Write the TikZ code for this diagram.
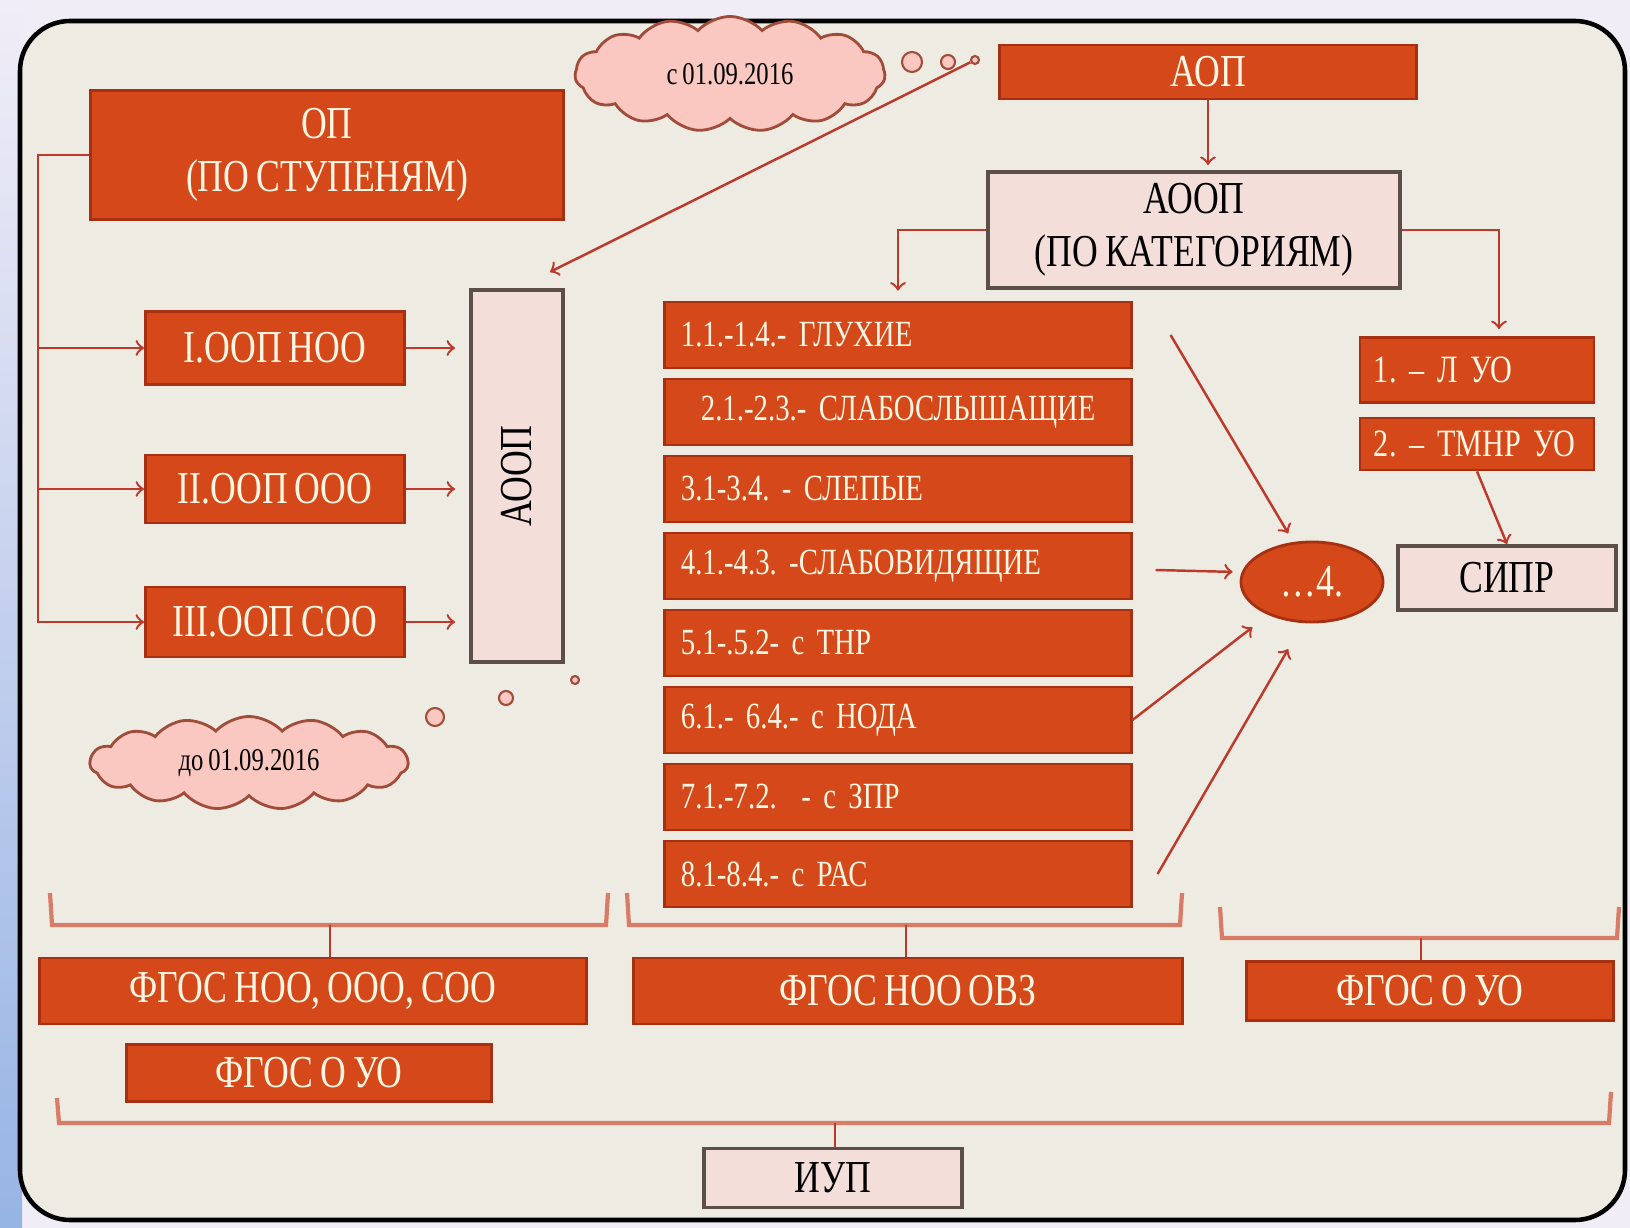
\documentclass[tikz,border=0pt]{standalone}
\usepackage{fontspec}
\setmainfont{Liberation Serif}[FakeStretch=0.78,WordSpace=0.8]
\frenchspacing
\usetikzlibrary{shapes.geometric,shapes.symbols}

\definecolor{pagebg}{RGB}{241,237,247}
\definecolor{pageblue}{RGB}{150,180,228}
\definecolor{framefill}{RGB}{238,236,226}
\definecolor{boxred}{RGB}{213,72,26}
\definecolor{boxedge}{RGB}{168,48,18}
\definecolor{boxtext}{RGB}{255,246,228}
\definecolor{lightfill}{RGB}{244,222,218}
\definecolor{lightedge}{RGB}{92,78,72}
\definecolor{linkred}{RGB}{190,56,44}
\definecolor{bracered}{RGB}{216,124,104}
\definecolor{cloudfill}{RGB}{250,200,192}
\definecolor{cloudedge}{RGB}{160,76,58}

\tikzset{
  redbox/.style={rectangle,draw=boxedge,line width=0.8pt,fill=boxred,text=boxtext,
    font=\fontsize{13}{15}\selectfont},
  lightbox/.style={rectangle,draw=lightedge,line width=1.1pt,fill=lightfill,text=black,
    font=\fontsize{13}{15}\selectfont},
  catbox/.style={redbox,font=\fontsize{10.5}{12}\selectfont,inner xsep=0.16cm,
    text width=4.34cm,align=left,minimum width=4.66cm,minimum height=0.66cm},
  smallbox/.style={redbox,font=\fontsize{11}{12}\selectfont,inner xsep=0.14cm,
    text width=2.06cm,align=left,minimum width=2.34cm},
  link/.style={draw=linkred,line width=0.7pt,->},
  brace/.style={draw=bracered,line width=1.2pt},
  cloudbox/.style={cloud,cloud puffs=15,cloud puff arc=95,cloud ignores aspect,draw=cloudedge,
    fill=cloudfill,line width=0.8pt,font=\fontsize{9}{10}\selectfont},
  bubble/.style={circle,draw=cloudedge,fill=cloudfill,line width=0.6pt,inner sep=0pt}
}

\begin{document}
\begin{tikzpicture}[x=0.01cm,y=-0.01cm]
  \useasboundingbox (0,0) rectangle (1630,1228);
  % page and frame
  \fill[pagebg] (0,0) rectangle (1630,1228);
  \shade[top color=pagebg,bottom color=pageblue] (0,0) rectangle (22,1228);
  \draw[line width=1.3pt,fill=framefill,rounded corners=0.5cm] (20,21) rectangle (1625,1220);

  % left part
  \node[redbox,minimum width=4.73cm,minimum height=1.29cm,align=center] (op) at (327,155) {ОП\\(ПО СТУПЕНЯМ)};
  \node[redbox,minimum width=2.59cm,minimum height=0.73cm] (s1) at (275,348) {I.ООП НОО};
  \node[redbox,minimum width=2.59cm,minimum height=0.68cm] (s2) at (275,489) {II.ООП ООО};
  \node[redbox,minimum width=2.59cm,minimum height=0.70cm] (s3) at (275,622) {III.ООП СОО};
  \node[lightbox,minimum width=0.92cm,minimum height=3.71cm] (aoopv) at (517,476) {};
  \node[rotate=90,font=\fontsize{13}{15}\selectfont] (aoopvt) at (aoopv.center) {АООП};

  % clouds
  \node[cloudbox,minimum width=3.1cm,minimum height=1.15cm] (cl1) at (730,74) {с 01.09.2016};
  \node[bubble,minimum size=0.2cm] (b1) at (912,62) {};
  \node[bubble,minimum size=0.14cm] (b2) at (948,62) {};
  \node[bubble,minimum size=0.08cm] (b3) at (975,60) {};
  \node[cloudbox,minimum width=3.18cm,minimum height=0.93cm] (cl2) at (249,763) {до 01.09.2016};
  \node[bubble,minimum size=0.18cm] (b4) at (435,717) {};
  \node[bubble,minimum size=0.14cm] (b5) at (506,698) {};
  \node[bubble,minimum size=0.08cm] (b6) at (575,680) {};

  % right part
  \node[redbox,minimum width=4.16cm,minimum height=0.5cm] (aop) at (1208,72) {АОП};
  \node[lightbox,minimum width=4.12cm,minimum height=1.11cm,align=center] (aoopk) at (1194,230) {АООП\\(ПО КАТЕГОРИЯМ)};
  \node[catbox] (c1) at (898,335) {1.1.-1.4.- ГЛУХИЕ};
  \node[catbox] (c2) at (898,412) {\hspace{0.2cm}2.1.-2.3.- СЛАБОСЛЫШАЩИЕ};
  \node[catbox] (c3) at (898,489) {3.1-3.4. - СЛЕПЫЕ};
  \node[catbox] (c4) at (898,566) {4.1.-4.3. -СЛАБОВИДЯЩИЕ};
  \node[catbox] (c5) at (898,643) {5.1-.5.2- с ТНР};
  \node[catbox] (c6) at (898,720) {6.1.- 6.4.- с НОДА};
  \node[catbox] (c7) at (898,797) {7.1.-7.2. \ - с ЗПР};
  \node[catbox] (c8) at (898,874) {8.1-8.4.- с РАС};
  \node[ellipse,fill=boxred,draw=boxedge,line width=0.8pt,text=boxtext,minimum width=1.42cm,
    minimum height=0.8cm,font=\fontsize{13}{15}\selectfont] (ell) at (1312,582) {…4.};
  \node[smallbox,minimum height=0.65cm] (luo) at (1477,370) {1. – Л УО};
  \node[smallbox,minimum height=0.52cm] (tmnr) at (1477,444) {2. – ТМНР УО};
  \node[lightbox,minimum width=2.18cm,minimum height=0.64cm] (sipr) at (1507,578) {СИПР};

  % standards
  \node[redbox,minimum width=5.47cm,minimum height=0.66cm] (f1) at (313,991) {ФГОС НОО, ООО, СОО};
  \node[redbox,minimum width=5.49cm,minimum height=0.66cm] (f2) at (908,991) {ФГОС НОО ОВЗ};
  \node[redbox,minimum width=3.67cm,minimum height=0.59cm] (f3) at (1430,991) {ФГОС О УО};
  \node[redbox,minimum width=3.65cm,minimum height=0.57cm] (f4) at (309,1073) {ФГОС О УО};
  \node[lightbox,minimum width=2.57cm,minimum height=0.59cm] (iup) at (833,1178) {ИУП};

  % connectors
  \draw[link] (op.west) -- ++(-51,0) |- (s1.west);
  \draw[link] (op.west) -- ++(-51,0) |- (s2.west);
  \draw[link] (op.west) -- ++(-51,0) |- (s3.west);
  \draw[link,shorten >=0.14cm] (s1.east) -- (s1.east -| aoopv.west);
  \draw[link,shorten >=0.14cm] (s2.east) -- (s2.east -| aoopv.west);
  \draw[link,shorten >=0.14cm] (s3.east) -- (s3.east -| aoopv.west);
  \draw[link,shorten >=0.1cm] (b3) -- ([xshift=0.24cm,yshift=0.12cm]aoopv.north);
  \draw[link,shorten >=0.05cm] (aop.south) -- (aop.south |- aoopk.north);
  \draw[link,shorten >=0.1cm] (aoopk.west) -| (c1.north);
  \draw[link,shorten >=0.07cm] (aoopk.east) -| ([xshift=0.22cm]luo.north);
  \draw[link,shorten >=0.1cm] ([xshift=0.38cm]c1.east) -- (ell.115);
  \draw[link,shorten >=0.09cm] ([shift={(0.23cm,-0.04cm)}]c4.east) -- (ell.172);
  \draw[link,shorten >=0.2cm] (c6.east) -- (ell.217);
  \draw[link,shorten >=0.3cm] ([xshift=0.25cm]c8.east) -- (ell.258);
  \draw[link] (tmnr.south) -- (sipr.north);

  % braces
  \coordinate (br1) at (330,925);
  \coordinate (br2) at (906,925);
  \coordinate (br3) at (1421,938);
  \coordinate (br4) at (835,1123);
  \draw[brace] (50,893) -- (52,925) -- (606,925) -- (608,893);
  \draw[brace] (627,893) -- (629,925) -- (1180,925) -- (1182,893);
  \draw[brace] (1220,907) -- (1222,938) -- (1617,938) -- (1619,907);
  \draw[brace] (57,1098) -- (59,1123) -- (1609,1123) -- (1611,1092);
  \draw[link,-] (br1) -- (br1 |- f1.north);
  \draw[link,-] (br2) -- (br2 |- f2.north);
  \draw[link,-] (br3) -- (br3 |- f3.north);
  \draw[link,-] (br4) -- (br4 |- iup.north);
\end{tikzpicture}
\end{document}
